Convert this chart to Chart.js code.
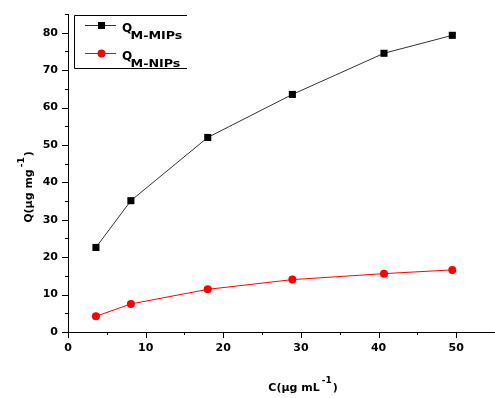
<!DOCTYPE html>
<html>
<head>
<meta charset="utf-8">
<script src="https://cdn.jsdelivr.net/npm/chart.js@4.4.0/dist/chart.umd.min.js"></script>
<style>
html,body{margin:0;padding:0;background:#fff;}
#wrap{width:495px;height:398px;position:relative;}
</style>
</head>
<body>
<div id="wrap"><canvas id="c" width="495" height="398"></canvas></div>
<script>
const concentrations = [3.6, 8.1, 18.0, 28.9, 40.7, 49.5];
const qMIPs = [22.6, 35.1, 52.0, 63.5, 74.5, 79.3];
const qNIPs = [4.2, 7.5, 11.4, 14.0, 15.6, 16.6];
const seriesNames = [["Q", "M-MIPs"], ["Q", "M-NIPs"]];
const xTitle = ["C(\u03bcg mL", "-1", ")"];
const yTitle = ["Q(\u03bcg mg", "-1", ")"];
const xTickValues = [0, 10, 20, 30, 40, 50];
const yTickValues = [0, 10, 20, 30, 40, 50, 60, 70, 80];

const FONT = '"DejaVu Sans", "Liberation Sans", sans-serif';

const overlay = {
  id: 'overlay',
  afterDraw(chart) {
    const ctx = chart.ctx;
    const xs = chart.scales.x, ys = chart.scales.y;
    const ca = chart.chartArea;
    ctx.save();
    ctx.strokeStyle = '#000';
    ctx.lineWidth = 1;
    // ticks (major every 10, minor every 5)
    for (let v = xs.min; v <= xs.max + 1e-9; v += 5) {
      const px = Math.round(xs.getPixelForValue(v)) + 0.5;
      const len = (v % 10 === 0) ? 6 : 3;
      ctx.beginPath(); ctx.moveTo(px, ca.bottom); ctx.lineTo(px, ca.bottom + len); ctx.stroke();
    }
    for (let v = ys.min; v <= ys.max + 1e-9; v += 5) {
      const py = Math.round(ys.getPixelForValue(v)) + 0.5;
      const len = (v % 10 === 0) ? 6 : 3;
      ctx.beginPath(); ctx.moveTo(ca.left, py); ctx.lineTo(ca.left - len, py); ctx.stroke();
    }
    // axis titles
    ctx.fillStyle = '#000';
    ctx.textBaseline = 'alphabetic';
    const mainF = 'bold 11px ' + FONT, supF = 'bold 9px ' + FONT;
    function drawSup(parts, x, y) {
      ctx.font = mainF; const w0 = ctx.measureText(parts[0]).width;
      ctx.font = supF; const w1 = ctx.measureText(parts[1]).width;
      ctx.font = mainF; const w2 = ctx.measureText(parts[2]).width;
      let sx = x - (w0 + w1 + 3 + w2) / 2;
      ctx.textAlign = 'left';
      ctx.font = mainF; ctx.fillText(parts[0], sx, y); sx += w0 + 2;
      ctx.font = supF; ctx.fillText(parts[1], sx, y - 8); sx += w1 + 1;
      ctx.font = mainF; ctx.fillText(parts[2], sx, y);
    }
    drawSup(xTitle, 303, 391);
    ctx.save();
    ctx.translate(31.5, 187);
    ctx.rotate(-Math.PI / 2);
    drawSup(yTitle, 0, 0);
    ctx.restore();
    // legend box
    ctx.strokeStyle = '#000';
    ctx.beginPath();
    ctx.moveTo(187, 15.5); ctx.lineTo(74.5, 15.5); ctx.lineTo(74.5, 68.5); ctx.lineTo(187, 68.5);
    ctx.stroke();
    const ds = chart.data.datasets;
    const rows = [25, 53];
    ds.forEach((d, i) => {
      const y = rows[i] + 0.5;
      ctx.strokeStyle = d.borderColor; ctx.lineWidth = 1;
      ctx.beginPath(); ctx.moveTo(85, y); ctx.lineTo(116, y); ctx.stroke();
      ctx.fillStyle = d.pointBackgroundColor;
      if (d.pointStyle === 'rect') {
        ctx.fillRect(98, y - 3.5, 7, 7);
      } else {
        ctx.beginPath(); ctx.arc(101.5, y, 4, 0, Math.PI * 2); ctx.fill();
      }
      ctx.fillStyle = '#000';
      ctx.textAlign = 'left';
      ctx.font = 'bold 12px ' + FONT;
      ctx.fillText(seriesNames[i][0], 122, rows[i] + 7);
      ctx.save();
      ctx.translate(130.5, rows[i] + 13.5);
      ctx.scale(1.27, 1);
      ctx.font = 'bold 10px ' + FONT;
      ctx.fillText(seriesNames[i][1], 0, 0);
      ctx.restore();
    });
    ctx.restore();
  }
};

new Chart(document.getElementById('c'), {
  type: 'line',
  data: {
    datasets: [
      {
        label: 'Q M-MIPs',
        data: concentrations.map((c, i) => ({x: c, y: qMIPs[i]})),
        borderColor: '#333', borderWidth: 1,
        pointStyle: 'rect', pointRadius: 5,
        pointBackgroundColor: '#000', pointBorderColor: '#000', pointBorderWidth: 0,
        tension: 0
      },
      {
        label: 'Q M-NIPs',
        data: concentrations.map((c, i) => ({x: c, y: qNIPs[i]})),
        borderColor: '#f00', borderWidth: 1,
        pointStyle: 'circle', pointRadius: 4,
        pointBackgroundColor: '#f00', pointBorderColor: '#f00', pointBorderWidth: 0,
        tension: 0
      }
    ]
  },
  options: {
    responsive: false,
    animation: false,
    devicePixelRatio: 1,
    layout: {autoPadding: false, padding: {top: 14, right: -2, left: 0, bottom: 0}},
    plugins: {legend: {display: false}, tooltip: {enabled: false}},
    scales: {
      x: {
        type: 'linear', min: 0, max: 55,
        afterFit(s) { s.height = 66; s.paddingRight = 0; s.paddingLeft = 0; },
        grid: {display: false, drawTicks: false},
        border: {display: true, color: '#000', width: 1},
        ticks: {
          stepSize: 10, padding: 10, color: '#000',
          font: {family: FONT, size: 11, weight: 'bold'},
          maxRotation: 0, autoSkip: false,
          callback: v => xTickValues.includes(v) ? String(v) : ''
        }
      },
      y: {
        type: 'linear', min: 0, max: 85,
        afterFit(s) { s.width = 68; s.paddingTop = 0; s.paddingBottom = 0; },
        grid: {display: false, drawTicks: false},
        border: {display: true, color: '#000', width: 1},
        ticks: {
          stepSize: 10, padding: 10, color: '#000',
          font: {family: FONT, size: 11, weight: 'bold'},
          autoSkip: false,
          callback: v => yTickValues.includes(v) ? String(v) : ''
        }
      }
    }
  },
  plugins: [overlay]
});
</script>
</body>
</html>
